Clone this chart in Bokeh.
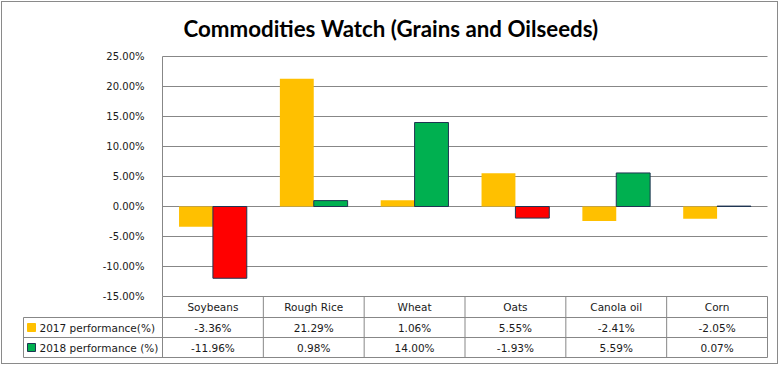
from bokeh.plotting import figure
from bokeh.layouts import column
from bokeh.models import Range1d, PrintfTickFormatter, FixedTicker, ColumnDataSource
from bokeh.core.properties import value
from bokeh.transform import dodge
from bokeh.embed import file_html
from bokeh.resources import INLINE

# ---------------- data ----------------
title_text = "Commodities Watch (Grains and Oilseeds)"
categories = ["Soybeans", "Rough Rice", "Wheat", "Oats", "Canola oil", "Corn"]
series_names = ["2017 performance(%)", "2018 performance (%)"]
perf_2017 = [-3.36, 21.29, 1.06, 5.55, -2.41, -2.05]
perf_2018 = [-11.96, 0.98, 14.00, -1.93, 5.59, 0.07]
y_ticks = [-15, -10, -5, 0, 5, 10, 15, 20, 25]

# ---------------- style / layout constants ----------------
YELLOW = "#FFC000"
GREEN = "#00B050"
RED = "#FF0000"
EDGE = "#1F3552"
GRID = "#878787"
TXT = "#1a1a1a"
FONT = "DejaVu Sans"

n = len(categories)
CW = 605 / n          # px per category
PX = 6.0              # px per percent point
BAR_W = 0.336
OFF = 0.168
LEG_PX = 139          # width of legend column of the data table (px)
ROW_PX = [21, 20, 20] # header row, 2017 row, 2018 row heights (px)
TOP_PAD_PX = 6        # room above the top tick inside the frame

# table row boundaries in y-data units (below the lowest tick)
ybounds = [y_ticks[0]]
for h in ROW_PX:
    ybounds.append(ybounds[-1] - h / PX)
ycent = [(ybounds[i] + ybounds[i + 1]) / 2 for i in range(3)]
LEG_X = -LEG_PX / CW

src = ColumnDataSource(dict(
    x=[i + 0.5 for i in range(n)],
    cat=categories,
    v17=perf_2017,
    v18=perf_2018,
    c18=[GREEN if v >= 0 else RED for v in perf_2018],
    t17=[f"{v:.2f}%" for v in perf_2017],
    t18=[f"{v:.2f}%" for v in perf_2018],
))

p = figure(width=775, height=361,
           x_range=Range1d(LEG_X - 1 / CW, n + 1 / CW),
           y_range=Range1d(ybounds[-1] - 1 / PX, y_ticks[-1] + TOP_PAD_PX / PX),
           x_axis_type=None,
           min_border_left=20, min_border_right=9,
           min_border_top=48, min_border_bottom=5,
           toolbar_location=None, output_backend="svg")
p.outline_line_color = None
p.background_fill_color = "white"
p.border_fill_color = "white"
p.grid.visible = False

p.title.text = title_text
p.title.align = "left"
p.title.offset = 161
p.title.standoff = 18
p.title.text_font = "Lato"
p.title.text_font_style = "bold"
p.title.text_font_size = "22.3px"
p.title.text_color = "#000000"

ax = p.yaxis[0]
ax.fixed_location = 0
ax.bounds = (y_ticks[0], y_ticks[-1])
ax.ticker = FixedTicker(ticks=y_ticks)
ax.formatter = PrintfTickFormatter(format="%.2f%%")
ax.major_tick_line_color = None
ax.minor_tick_line_color = None
ax.axis_line_color = GRID
ax.major_label_standoff = 12
ax.major_label_text_font = FONT
ax.major_label_text_font_size = "10px"
ax.major_label_text_color = TXT

# horizontal gridlines at the y ticks, across the category area only
p.segment(x0=[0] * len(y_ticks), y0=y_ticks, x1=[n] * len(y_ticks), y1=y_ticks,
          line_color=GRID, line_width=1)

# bars
p.vbar(x=dodge("x", -OFF, range=p.x_range), top="v17", width=BAR_W,
       source=src, fill_color=YELLOW, line_color=None)
p.vbar(x=dodge("x", OFF, range=p.x_range), top="v18", width=BAR_W,
       source=src, fill_color="c18", line_color=EDGE, line_width=1)

# ---------------- data table ----------------
# vertical lines at category boundaries
p.segment(x0=list(range(n + 1)), y0=[ybounds[0]] * (n + 1),
          x1=list(range(n + 1)), y1=[ybounds[-1]] * (n + 1),
          line_color=GRID, line_width=1)
# legend column left border
p.segment(x0=[LEG_X], y0=[ybounds[1]], x1=[LEG_X], y1=[ybounds[-1]],
          line_color=GRID, line_width=1)
# horizontal row lines
p.segment(x0=[LEG_X] * 3, y0=ybounds[1:], x1=[n] * 3, y1=ybounds[1:],
          line_color=GRID, line_width=1)

for col, yc in zip(["cat", "t17", "t18"], ycent):
    p.text(x="x", y=yc, text=col, source=src, text_align="center", text_baseline="middle",
           text_font=value(FONT), text_font_size="10.5px", text_color=TXT)

leg_src = ColumnDataSource(dict(
    x=[LEG_X + 8 / CW] * 2,
    tx=[LEG_X + 16 / CW] * 2,
    y=ycent[1:],
    name=series_names,
    fill=[YELLOW, GREEN],
    line=[YELLOW, EDGE],
))
p.scatter(x="x", y="y", marker="square", size=8, fill_color="fill", line_color="line",
          line_width=1, source=leg_src)
p.text(x="tx", y="y", text="name", source=leg_src, text_align="left", text_baseline="middle",
       text_font=value(FONT), text_font_size="10.5px", text_color=TXT)

layout = column(p, styles={"border": "1px solid #8a8a8a", "margin": "1px"})

with open("out.html", "w") as f:
    f.write(file_html(layout, INLINE))
